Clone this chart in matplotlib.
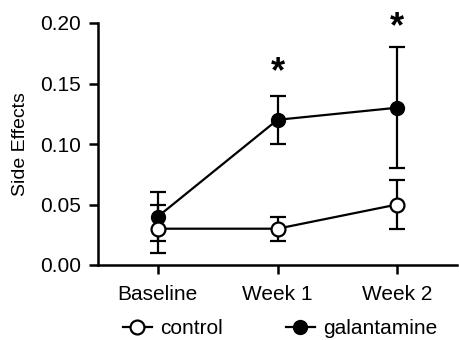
import matplotlib
matplotlib.use("Agg")
import matplotlib.pyplot as plt
from matplotlib.lines import Line2D

categories = ["Baseline", "Week 1", "Week 2"]
control = [0.03, 0.03, 0.05]
control_err = [0.02, 0.01, 0.02]
galantamine = [0.04, 0.12, 0.13]
galantamine_err = [0.02, 0.02, 0.05]
star_positions = [1, 2]
star_y = [0.159, 0.196]
yticks = [0.00, 0.05, 0.10, 0.15, 0.20]

plt.rcParams['font.family'] = ['Liberation Sans', 'DejaVu Sans']

fig = plt.figure(figsize=(4.59, 3.4), dpi=100)
ax = fig.add_axes([98/459, 1-265/340, (457-98)/459, (265-23)/340])

x = list(range(len(categories)))
lw = 1.6
ax.errorbar(x, galantamine, yerr=galantamine_err, color='black', lw=lw,
            marker='o', ms=10, mfc='black', mec='black', capsize=6,
            capthick=lw, elinewidth=lw, zorder=3)
ax.errorbar(x, control, yerr=control_err, color='black', lw=lw,
            marker='o', ms=10, mfc='white', mec='black', mew=1.6, capsize=6,
            capthick=lw, elinewidth=lw, zorder=4)

for px, py in zip(star_positions, star_y):
    ax.text(px, py, "*", ha='center', va='center', fontsize=26, fontweight='bold',
            clip_on=False)

ax.set_xlim(-0.5, 2.5)
ax.set_ylim(0, 0.2)
ax.set_xticks(x)
ax.set_xticklabels(categories, fontsize=15)
ax.set_yticks(yticks)
ax.set_yticklabels([f"{v:.2f}" for v in yticks], fontsize=15)
ax.set_ylabel("Side Effects", fontsize=14, labelpad=8)
for s in ['top', 'right']:
    ax.spines[s].set_visible(False)
for s in ['left', 'bottom']:
    ax.spines[s].set_linewidth(1.8)
ax.tick_params(width=1.8, length=6.5, direction='out', pad=6)
ax.tick_params(axis='x', pad=8)

handles = [Line2D([], [], color='black', lw=lw, marker='o', ms=10, mfc='white', mec='black', mew=1.6),
           Line2D([], [], color='black', lw=lw, marker='o', ms=10, mfc='black', mec='black')]
fig.legend(handles, ["control", "galantamine"], loc='center', bbox_to_anchor=(280/459, 1-329/340),
           ncol=2, frameon=False, fontsize=15, handlelength=1.4, handletextpad=0.4,
           columnspacing=3.0)

fig.savefig("out.png", dpi=100)
